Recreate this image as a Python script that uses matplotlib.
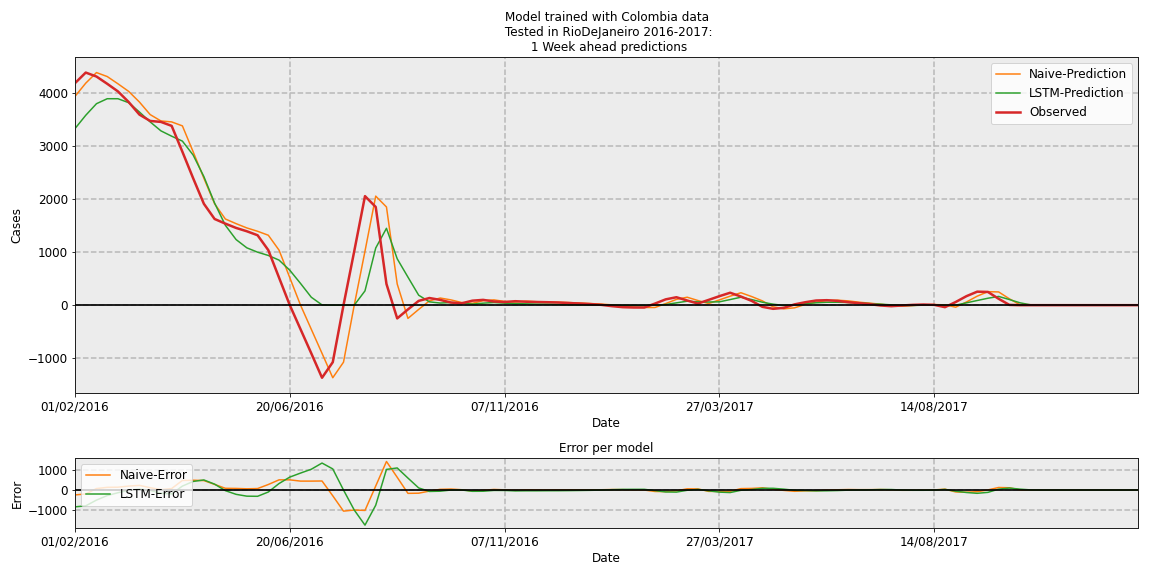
import numpy as np
import pandas as pd
import matplotlib
matplotlib.use("Agg")
import matplotlib.pyplot as plt
import matplotlib.dates as mdates
from matplotlib.ticker import MultipleLocator

start_date = "2016-02-01"
n_weeks = 100

observed = [4194, 4394, 4319, 4182, 4038, 3837, 3600, 3480, 3462, 3387,
            2898, 2398, 1915, 1628, 1540, 1459, 1396, 1321, 1039, 519,
            0, -455, -910, -1371, -1077, 0, 1020, 2060, 1855, 400,
            -250, -80, 81, 135, 100, 50, 35, 85, 100, 70,
            60, 75, 65, 60, 56, 50, 40, 31, 20, 6,
            -19, -38, -44, -44, 30, 110, 150, 88, 31, 100,
            170, 235, 163, 81, -31, -69, -50, 15, 56, 88,
            94, 81, 56, 38, 19, -6, -19, -6, 6, 12,
            6, -38, 60, 170, 255, 250, 120, 5, 0, 0,
            0, 0, 0, 0, 0, 0, 0, 0, 0, 0]

naive_pred = [3944, 4194, 4394, 4319, 4182, 4038, 3837, 3600, 3480, 3462,
              3387, 2898, 2398, 1915, 1628, 1540, 1459, 1396, 1321, 1039,
              519, 0, -455, -910, -1371, -1077, 0, 1020, 2060, 1855,
              400, -250, -80, 81, 135, 100, 50, 35, 85, 100,
              70, 60, 75, 65, 60, 56, 50, 40, 31, 20,
              6, -19, -38, -44, -44, 30, 110, 150, 88, 31,
              100, 170, 235, 163, 81, -31, -69, -50, 15, 56,
              88, 94, 81, 56, 38, 19, -6, -19, -6, 6,
              12, 6, -38, 60, 170, 255, 250, 120, 5, 0,
              0, 0, 0, 0, 0, 0, 0, 0, 0, 0]

lstm_pred = [3336, 3587, 3806, 3900, 3900, 3825, 3649, 3462, 3293, 3192,
             3099, 2836, 2429, 1928, 1509, 1239, 1083, 1001, 939, 851,
             660, 410, 150, 5, 0, 0, 0, 270, 1080, 1452,
             876, 530, 188, 63, 40, 50, 38, 20, 38, 50,
             38, 30, 25, 20, 20, 15, 10, 8, 5, 3,
             0, -5, -8, -8, 0, 12, 44, 75, 63, 60,
             63, 106, 150, 106, 56, 19, -6, 0, 30, 45,
             55, 55, 50, 40, 30, 19, 6, -6, -6, 0,
             0, -6, 0, 44, 88, 131, 165, 106, 44, 6,
             0, 0, 0, 0, 0, 0, 0, 0, 0, 0]

dates = pd.date_range(start_date, periods=n_weeks, freq="7D")
obs = np.array(observed, dtype=float)
naive = np.array(naive_pred, dtype=float)
lstm = np.array(lstm_pred, dtype=float)
naive_err = naive - obs
lstm_err = lstm - obs

plt.rcParams["font.family"] = ["DejaVu Sans"]
plt.rcParams["font.size"] = 12

C_OR = "#ff7f0e"
C_GR = "#2ca02c"
C_RD = "#d62728"
BG = "#ececec"
GRID = "#b8b8b8"

fig = plt.figure(figsize=(16, 8), dpi=72)
ax1 = fig.add_axes([0.0651, 0.3177, 0.9230, 0.5828])
ax2 = fig.add_axes([0.0651, 0.0828, 0.9230, 0.1215])

tick_dates = dates[::20]
fmt = mdates.DateFormatter("%d/%m/%Y")

for ax in (ax1, ax2):
    ax.set_facecolor(BG)
    ax.set_axisbelow(True)
    ax.grid(True, linestyle="--", color=GRID, linewidth=1.5)
    ax.set_xticks(tick_dates)
    ax.xaxis.set_major_formatter(fmt)
    ax.set_xlim(dates[0], dates[-1])
    ax.axhline(0, color="black", linewidth=2, alpha=0.85, zorder=3)
    for sp in ax.spines.values():
        sp.set_color("#222222")
        sp.set_linewidth(1.0)
    ax.tick_params(labelsize=12)

ax1.plot(dates, naive, color=C_OR, linewidth=1.5, label="Naive-Prediction")
ax1.plot(dates, lstm, color=C_GR, linewidth=1.5, label="LSTM-Prediction")
ax1.plot(dates, obs, color=C_RD, linewidth=2.5, label="Observed")
ax1.set_title("Model trained with Colombia data\n Tested in RioDeJaneiro 2016-2017:\n 1 Week ahead predictions",
              fontsize=12)
ax1.set_ylabel("Cases", fontsize=12)
ax1.set_xlabel("Date", fontsize=12)
ax1.yaxis.set_major_locator(MultipleLocator(1000))
ax1.legend(loc="upper right", fontsize=12, framealpha=0.8, edgecolor="#cccccc", fancybox=True)

ax2.plot(dates, naive_err, color=C_OR, linewidth=1.5, label="Naive-Error")
ax2.plot(dates, lstm_err, color=C_GR, linewidth=1.5, label="LSTM-Error")
ax2.set_title("Error per model", fontsize=12)
ax2.set_ylabel("Error", fontsize=12)
ax2.set_xlabel("Date", fontsize=12)
ax2.yaxis.set_major_locator(MultipleLocator(1000))
ax2.legend(loc="upper left", fontsize=12, framealpha=0.8, edgecolor="#cccccc", fancybox=True)

fig.savefig("out.png", dpi=72)
